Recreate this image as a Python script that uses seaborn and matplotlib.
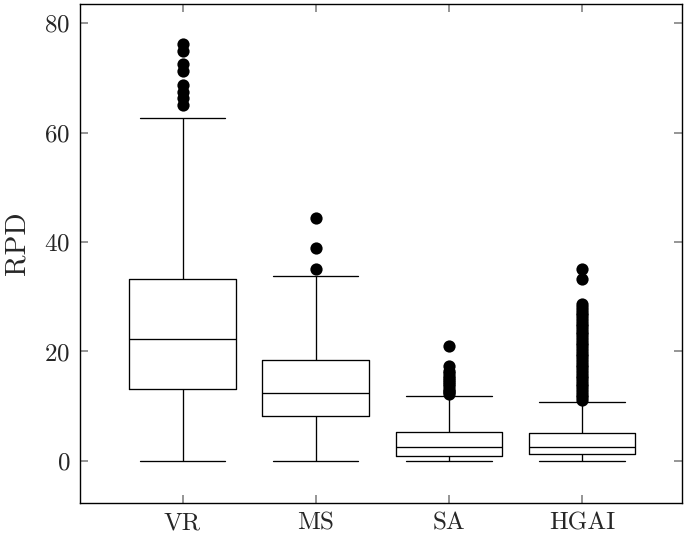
import matplotlib
matplotlib.use("Agg")
import matplotlib.pyplot as plt
import seaborn as sns
import pandas as pd

categories = ["VR", "MS", "SA", "HGAI"]
# five-number summaries: lower whisker, Q1, median, Q3, upper whisker
whisker_low = [0.0, 0.0, 0.0, 0.0]
q1 = [13.15, 8.2, 0.8, 1.3]
median = [22.3, 12.4, 2.6, 2.6]
q3 = [33.2, 18.4, 5.2, 5.1]
whisker_high = [62.7, 33.7, 11.9, 10.8]

outliers_vr = [76.2, 74.9, 72.5, 71.2, 68.7, 67.4, 66.3, 65.0]
outliers_ms = [44.4, 38.9, 35.0]
outliers_sa = [21.0, 17.3, 16.4, 16.0, 15.6, 15.2, 14.8, 14.4, 14.0,
               13.6, 13.2, 12.8, 12.5, 12.2]
outliers_hgai = [35.1, 33.3, 28.6, 28.1, 27.6, 27.1, 26.6, 26.1, 25.6,
                 25.1, 24.6, 24.1, 23.6, 23.1, 22.6, 22.1, 21.6, 21.1,
                 20.6, 20.1, 19.6, 19.1, 18.6, 18.1, 17.6, 17.1, 16.6,
                 16.1, 15.6, 15.1, 14.6, 14.1, 13.6, 13.1, 12.6, 12.1,
                 11.6, 11.1]

sns.set_theme(style="white")
plt.rcParams["font.family"] = ["cmr10", "DejaVu Serif"]
plt.rcParams["axes.formatter.use_mathtext"] = True
plt.rcParams["mathtext.fontset"] = "cm"

box_rows = []
for i, c in enumerate(categories):
    for v in (whisker_low[i], q1[i], median[i], q3[i], whisker_high[i]):
        box_rows.append({"cat": c, "val": v})
box_df = pd.DataFrame(box_rows)

out_rows = []
for c, vals in zip(categories, [outliers_vr, outliers_ms, outliers_sa, outliers_hgai]):
    for v in vals:
        out_rows.append({"cat": c, "val": v})
out_df = pd.DataFrame(out_rows)

fig = plt.figure(figsize=(6.85, 5.36), dpi=100)
ax = fig.add_axes([80 / 685, 33 / 536, 602 / 685, 499 / 536])

sns.boxplot(data=box_df, x="cat", y="val", order=categories, whis=(0, 100),
            fill=False, color="black", linecolor="black", linewidth=0.95,
            width=0.8, showfliers=False, ax=ax)
sns.stripplot(data=out_df, x="cat", y="val", order=categories, jitter=False,
              color="black", size=8.8, linewidth=0, ax=ax)

# make caps wider like pgfplots
for line in ax.lines:
    xd = line.get_xdata()
    yd = line.get_ydata()
    if len(xd) == 2 and yd[0] == yd[1] and abs(xd[1] - xd[0]) < 0.5:
        cx = (xd[0] + xd[1]) / 2
        line.set_xdata([cx - 0.32, cx + 0.32])

ax.set_xlim(-0.77, 3.75)
ax.set_ylim(-7.7, 83.5)
ax.set_yticks([0, 20, 40, 60, 80])
ax.set_xlabel("")
ax.set_ylabel("RPD", fontsize=21)
ax.yaxis.set_label_coords(-0.082, 0.521)
ax.tick_params(axis="both", which="both", direction="in", length=6,
               color="#888888", labelsize=18, top=True, right=True,
               left=True, bottom=True, pad=7)
for s in ax.spines.values():
    s.set_visible(True)
    s.set_color("black")
    s.set_linewidth(1.0)

fig.savefig("out.png", dpi=100)
